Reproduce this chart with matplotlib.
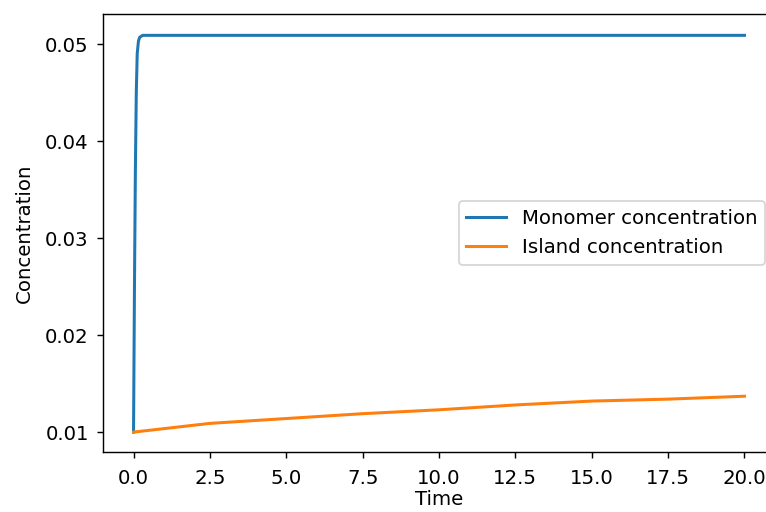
import matplotlib
matplotlib.use("Agg")
import matplotlib.pyplot as plt
import numpy as np

# Data
mono_t = [0.0, 0.03, 0.06, 0.09, 0.12, 0.16, 0.2, 0.3, 0.5, 1.0, 5.0, 10.0, 15.0, 20.0]
mono_c = [0.0100, 0.0250, 0.0370, 0.0450, 0.0490, 0.0503, 0.0507, 0.0509, 0.0509, 0.0509, 0.0509, 0.0509, 0.0509, 0.0509]

isl_t = [0.0, 2.5, 5.0, 7.5, 10.0, 12.5, 15.0, 17.5, 20.0]
isl_c = [0.0100, 0.0109, 0.0114, 0.0119, 0.0123, 0.0128, 0.0132, 0.0134, 0.0137]

labels = ["Monomer concentration", "Island concentration"]

plt.rcParams["font.size"] = 11.1

fig = plt.figure(figsize=(766 / 128, 512 / 128), dpi=128)
ax = fig.add_axes([103 / 766, 1 - 452 / 512, (775 - 103) / 766, (452 - 14) / 512])
ax.plot(mono_t, mono_c, color="#1f77b4", label=labels[0], lw=1.7)
ax.plot(isl_t, isl_c, color="#ff7f0e", label=labels[1], lw=1.7)
ax.set_xlim(-1.0, 21.0)
ax.set_ylim(0.00795, 0.0531)
ax.set_xticks(np.arange(0, 20.01, 2.5))
ax.set_yticks([0.01, 0.02, 0.03, 0.04, 0.05])
ax.tick_params(axis="x", pad=6.0)
ax.tick_params(axis="y", pad=4.5)
ax.set_xlabel("Time", labelpad=1.0)
ax.set_ylabel("Concentration", labelpad=6.5)
ax.legend(loc="center right")
fig.savefig("out.png", dpi=128)
